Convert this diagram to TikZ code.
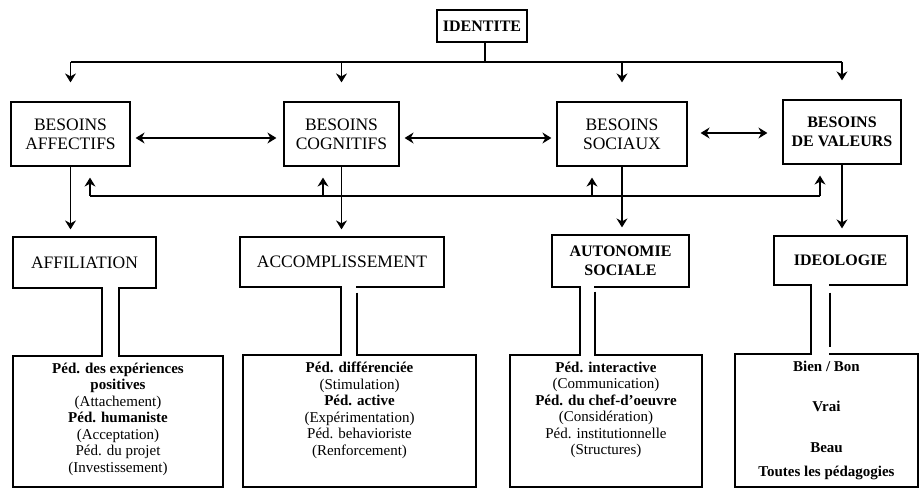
\documentclass[tikz,border=0pt]{standalone}
\usepackage{fontspec}
\setmainfont{Liberation Serif}
\usetikzlibrary{arrows.meta,positioning,calc}

\begin{document}
\begin{tikzpicture}[x=1pt,y=-1pt,line width=1.2pt,
    tip/.tip={Stealth[length=9pt,width=11pt,inset=3pt]},
    arr/.style={-tip},
    darr/.style={tip-tip},
    lbl/.style={draw,align=center,inner sep=0pt,font=\fontsize{17.5}{19}\selectfont},
    lblb/.style={lbl,font=\fontsize{16}{19}\selectfont\bfseries},
    pedbox/.style={draw,inner sep=0pt},
    pedtext/.style={align=center,inner sep=0pt,font=\fontsize{15}{16.5}\selectfont}]
  \useasboundingbox (0,0) rectangle (919,489);

  % identite et besoins
  \node[lblb,minimum width=90pt,minimum height=32pt] (idt) at (482,26) {IDENTITE};
  \node[lbl,minimum width=119pt,minimum height=64pt] (aff) at (70.5,134) {BESOINS\\AFFECTIFS};
  \node[lbl,minimum width=115pt,minimum height=64pt] (cog) at (341.5,134) {BESOINS\\COGNITIFS};
  \node[lbl,minimum width=130pt,minimum height=64pt] (soc) at (622,134) {BESOINS\\SOCIAUX};
  \node[lblb,minimum width=118pt,minimum height=64pt] (val) at (842,132) {BESOINS\\DE VALEURS};

  % deuxieme rang
  \node[lbl,minimum width=143pt,minimum height=51pt] (affil) at (84.5,262.5) {AFFILIATION};
  \node[lbl,minimum width=204pt,minimum height=50pt] (accom) at (342,262) {ACCOMPLISSEMENT};
  \node[lblb,minimum width=137pt,minimum height=52pt] (auto) at (620.5,261) {AUTONOMIE\\SOCIALE};
  \node[lblb,minimum width=133pt,minimum height=49pt] (ideo) at (840.5,260.5) {IDEOLOGIE};

  % pedagogies
  \node[pedbox,minimum width=210pt,minimum height=131pt] (ped1) at (118,421.5) {};
  \node[pedbox,minimum width=233pt,minimum height=132pt] (ped2) at (359.5,421) {};
  \node[pedbox,minimum width=192pt,minimum height=132pt] (ped3) at (606,421) {};
  \node[pedbox,minimum width=183pt,minimum height=133pt] (ped4) at (826.5,420.5) {};
  \node[pedtext,below=7pt of ped1.north] (txt1) {\textbf{Péd. des expériences}\\\textbf{positives}\\(Attachement)\\\textbf{Péd. humaniste}\\(Acceptation)\\Péd. du projet\\(Investissement)};
  \node[pedtext,below=7pt of ped2.north] (txt2) {\textbf{Péd. différenciée}\\(Stimulation)\\\textbf{Péd. active}\\(Expérimentation)\\Péd. behavioriste\\(Renforcement)};
  \node[pedtext,below=7pt of ped3.north] (txt3) {\textbf{Péd. interactive}\\(Communication)\\\textbf{Péd. du chef-d'oeuvre}\\(Considération)\\Péd. institutionnelle\\(Structures)};
  \node[pedtext,font=\fontsize{15}{16.5}\selectfont\bfseries,below=7pt of ped4.north] (txt4) {Bien / Bon\\[23.5pt]Vrai\\[24.5pt]Beau\\[7.5pt]Toutes les pédagogies};

  % fleches du haut
  \coordinate (bar) at (485,62);
  \draw (idt.south -| bar) -- (bar);
  \draw (bar -| aff) -- (bar -| val);
  \foreach \n in {aff,cog,soc,val}
    \draw[arr] (bar -| \n) -- ($(\n.north)+(0,-19)$);

  \draw[darr] ([xshift=5pt,yshift=-4pt]aff.east) -- ([xshift=-7pt,yshift=-4pt]cog.west);
  \draw[darr] ([xshift=5pt,yshift=-4pt]cog.east) -- ([xshift=-5pt,yshift=-4pt]soc.west);
  \draw[darr] ([xshift=13pt,yshift=1pt]soc.east) -- ([xshift=-15pt,yshift=-1pt]val.west);

  % retour
  \foreach \x [count=\i] in {90,323,592,820}
    \coordinate (fb\i) at (\x,196);
  \draw (fb1) -- (fb4);
  \foreach \i/\n in {1/aff,2/cog,3/soc,4/val}
    \draw[arr] (fb\i) -- ($(fb\i |- \n.south)+(0,11)$);

  \foreach \a/\b in {aff/affil,cog/accom,soc/auto,val/ideo}
    \draw[arr] (\a.south) -- ($(\a.south |- \b.north)+(0,-7)$);

  % liaisons vers les pedagogies
  \foreach \a/\b/\xa/\xb/\ga/\gb in {affil/ped1/102/119/0/0,accom/ped2/341/357/5/0,auto/ped3/580/595/4/0,ideo/ped4/811/830/7/6}{
    \fill[white] ($(\a.south -| \xa,0)+(0.6,-2)$) rectangle ($(\b.north -| \xb,0)+(-0.6,2)$);
    \draw (\a.south -| \xa,0) -- (\b.north -| \xa,0);
    \draw ($(\a.south -| \xb,0)+(0,\ga)$) -- ($(\b.north -| \xb,0)+(0,-\gb)$);
  }
\end{tikzpicture}
\end{document}
